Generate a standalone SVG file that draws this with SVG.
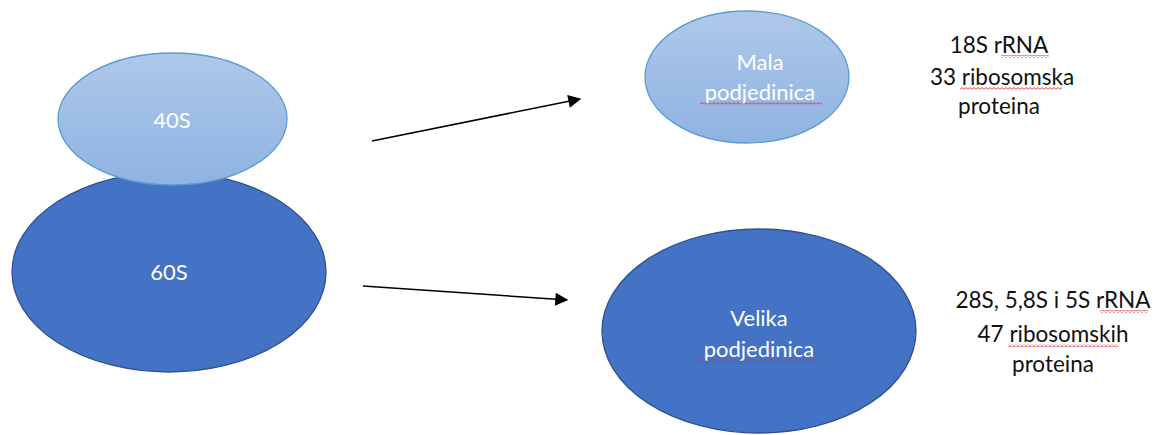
<svg xmlns="http://www.w3.org/2000/svg" width="1163" height="435" viewBox="0 0 1163 435">
<style>
.lbl{font-family:Lato,"Open Sans","Liberation Sans",sans-serif;font-size:22px;fill:#ffffff;text-anchor:middle}
.note{font-family:Lato,"Open Sans","Liberation Sans",sans-serif;font-size:22.5px;fill:#111111;text-anchor:middle}
.dark{fill:#4472C4;stroke:#2F528F;stroke-width:1.3}
.light{fill:url(#lg);stroke:#5B9BD5;stroke-width:1.3}
.conn{stroke:#000;stroke-width:1.5;fill:none;marker-end:url(#ah)}
.wave{fill:url(#wv)}
</style>
<defs>
<linearGradient id="lg" x1="0" y1="0" x2="0" y2="1">
<stop offset="0" stop-color="#AEC8E9"/>
<stop offset="1" stop-color="#8FB3E2"/>
</linearGradient>
<marker id="ah" viewBox="0 0 10 10" refX="9" refY="5" markerWidth="14" markerHeight="13" markerUnits="userSpaceOnUse" orient="auto">
<path d="M0,0 L10,5 L0,10 z" fill="#000"/>
</marker>
<pattern id="wv" width="4" height="3" patternUnits="userSpaceOnUse">
<path d="M0,2.5 L2,0.5 L4,2.5" stroke="#E02B2B" stroke-width="1" fill="none"/>
</pattern>
</defs>
<g id="node-60S">
<ellipse class="dark" cx="169" cy="272" rx="157" ry="100"/>
<text class="lbl" x="169" y="280">60S</text>
</g>
<g id="node-40S">
<ellipse class="light" cx="172.5" cy="119" rx="114.5" ry="66"/>
<text class="lbl" x="172" y="128">40S</text>
</g>
<g id="node-mala">
<ellipse class="light" cx="747" cy="77" rx="102" ry="66"/>
<text class="lbl" x="760" y="70">Mala</text>
<text class="lbl" x="760" y="100">podjedinica</text>
<rect class="wave" x="700" y="102" width="122" height="3"/>
</g>
<g id="node-velika">
<ellipse class="dark" cx="759" cy="331" rx="157" ry="102"/>
<text class="lbl" x="759" y="326">Velika</text>
<text class="lbl" x="759" y="357">podjedinica</text>
<rect class="wave" x="698" y="359" width="122" height="3"/>
</g>
<g id="note-mala">
<text class="note" x="999" y="53">18S rRNA</text>
<text class="note" x="1002" y="85">33 ribosomska</text>
<text class="note" x="999" y="114">proteina</text>
<rect class="wave" x="1001" y="55" width="48" height="3"/>
<rect class="wave" x="960" y="87" width="102" height="3"/>
</g>
<g id="note-velika">
<text class="note" x="1053" y="308">28S, 5,8S i 5S rRNA</text>
<text class="note" x="1053" y="342">47 ribosomskih</text>
<text class="note" x="1053" y="372">proteina</text>
<rect class="wave" x="1100" y="310" width="48" height="3"/>
<rect class="wave" x="1008" y="344" width="110" height="3"/>
</g>
<g id="connectors">
<line class="conn" x1="372" y1="141" x2="580" y2="99"/>
<line class="conn" x1="363" y1="286" x2="567" y2="300"/>
</g>
</svg>
